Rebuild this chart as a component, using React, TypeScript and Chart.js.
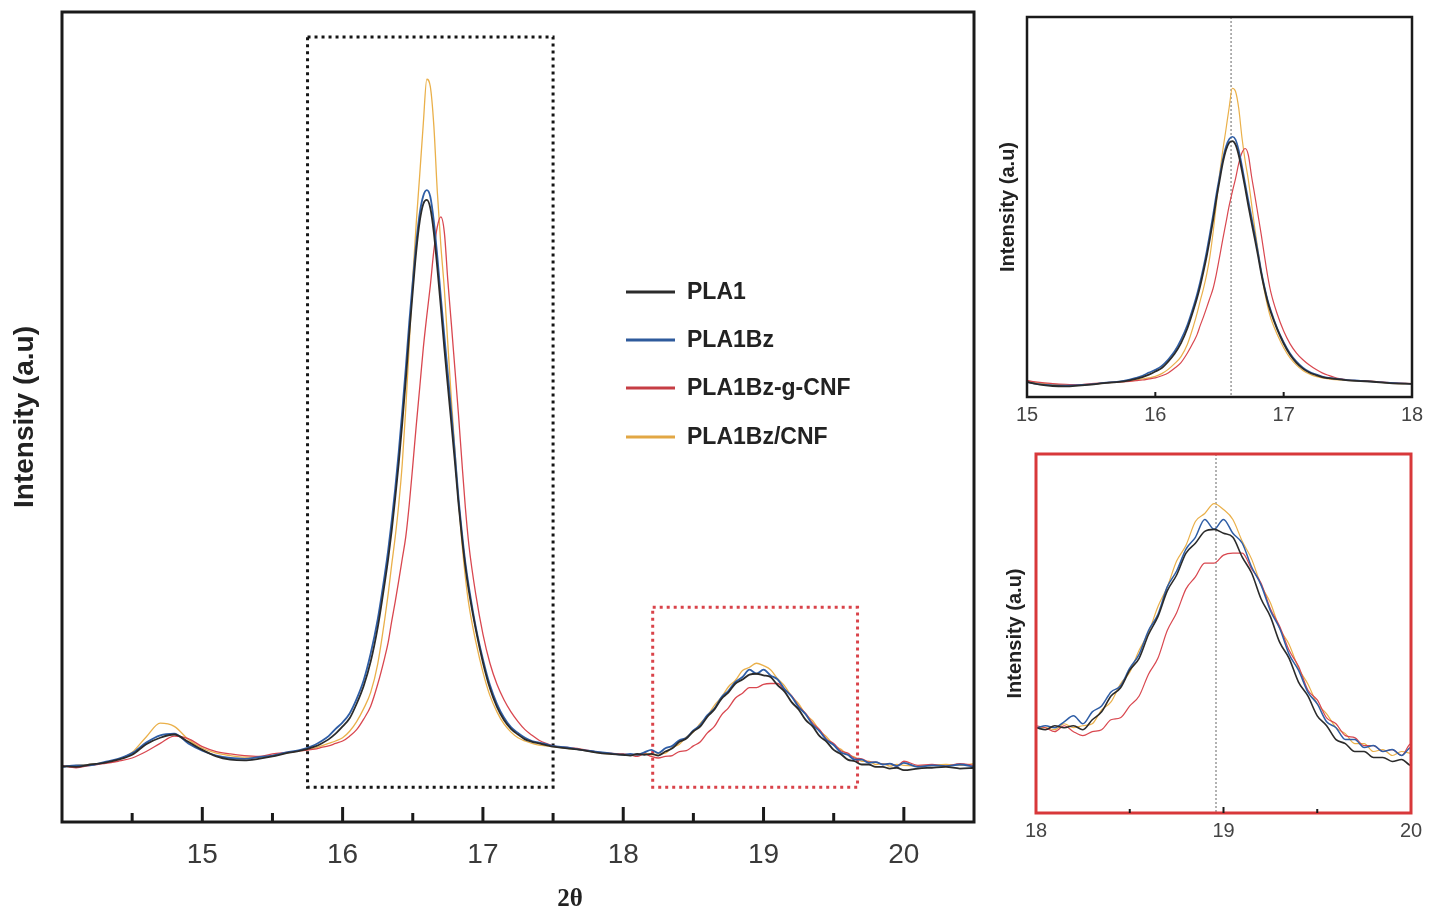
import { useEffect, useRef } from 'react';
import { Chart, registerables } from 'chart.js';

Chart.register(...registerables);

// ---------- DATA ----------
const twoTheta = [
  14.0, 14.1, 14.2, 14.3, 14.4, 14.5, 14.6, 14.7, 14.8, 14.9, 15.0, 15.1, 15.2, 15.3, 15.4, 15.5, 15.6, 15.7, 15.8,
  15.85, 15.9, 15.95, 16.0, 16.05, 16.1, 16.15, 16.2, 16.25, 16.3,
  16.325, 16.35, 16.375, 16.4, 16.425, 16.45, 16.475, 16.5, 16.525, 16.55, 16.575, 16.6, 16.625, 16.65, 16.675, 16.7,
  16.725, 16.75, 16.775, 16.8, 16.825, 16.85, 16.875, 16.9,
  16.95, 17.0, 17.05, 17.1, 17.15, 17.2, 17.25, 17.3, 17.35, 17.4, 17.45, 17.5,
  17.6, 17.7, 17.8, 17.9, 18.0,
  18.05, 18.1, 18.15, 18.2, 18.25, 18.3, 18.35, 18.4, 18.45, 18.5, 18.55, 18.6, 18.65, 18.7, 18.75, 18.8, 18.85, 18.9,
  18.95, 19.0, 19.05, 19.1, 19.15, 19.2, 19.25, 19.3, 19.35, 19.4, 19.45, 19.5, 19.55, 19.6, 19.65, 19.7, 19.75, 19.8,
  19.85, 19.9, 19.95, 20.0,
  20.1, 20.2, 20.3, 20.4, 20.5,
];

const pla1 = [
  69, 68, 71, 73, 77, 83, 96, 104, 108, 99, 89, 81, 77, 76, 78, 81, 85, 88, 93,
  97, 102, 109, 118, 128, 146, 168, 198, 240, 295,
  325, 360, 400, 443, 492, 545, 603, 655, 705, 742, 763, 768, 758, 728, 684, 636,
  585, 538, 492, 445, 395, 352, 315, 285,
  237, 197, 165, 142, 126, 115, 108, 102, 99, 97, 95, 93,
  91, 89, 86, 84, 83,
  82, 84, 83, 84, 82, 87, 91, 99, 103, 112, 118, 130, 139, 152, 160, 171, 176, 182,
  183, 181, 179, 169, 161, 148, 139, 126, 118, 106, 99, 89, 84, 77, 75, 71, 71, 68,
  68, 66, 67, 64,
  66, 67, 68, 66, 67,
];

const pla1Bz = [
  68, 70, 70, 74, 78, 85, 98, 107, 109, 97, 88, 82, 79, 78, 80, 82, 86, 89, 95,
  100, 106, 115, 123, 134, 152, 175, 208, 250, 305,
  336, 372, 412, 457, 507, 560, 617, 667, 715, 752, 773, 780, 772, 742, 698, 648,
  600, 553, 505, 455, 402, 358, 320, 290,
  240, 201, 169, 146, 129, 117, 110, 104, 100, 98, 96, 94,
  92, 89, 87, 85, 83,
  84, 83, 86, 89, 85, 91, 94, 101, 104, 113, 120, 132, 140, 154, 162, 173, 179, 188,
  183, 188, 181, 176, 164, 155, 142, 133, 120, 112, 101, 95, 86, 83, 77, 77, 73, 74,
  71, 72, 69, 73,
  68, 70, 69, 71, 68,
];

const pla1BzgCNF = [
  70, 67, 70, 72, 75, 79, 87, 97, 106, 103, 93, 87, 84, 82, 81, 84, 86, 88, 90,
  92, 94, 97, 100, 106, 114, 127, 143, 170, 203,
  222, 248, 272, 298, 325, 352, 392, 440, 490, 537, 585, 625, 662, 705, 735, 747,
  728, 668, 615, 560, 505, 445, 388, 342,
  280, 232, 196, 170, 151, 136, 124, 114, 107, 101, 97, 94,
  92, 90, 87, 85, 84,
  83, 81, 84, 81, 79, 81, 82, 87, 88, 94, 99, 110, 118, 132, 141, 153, 159, 166,
  166, 170, 171, 171, 163, 156, 143, 134, 122, 114, 102, 97, 88, 85, 79, 78, 74, 74,
  71, 72, 69, 75,
  70, 71, 69, 72, 70,
];

const pla1BzCNF = [
  68, 70, 71, 73, 77, 86, 105, 122, 118, 102, 91, 85, 82, 80, 80, 82, 85, 88, 91,
  94, 97, 100, 104, 112, 124, 140, 160, 195, 250,
  282, 318, 352, 392, 442, 510, 590, 672, 740, 800, 862, 917, 908, 860, 778, 712,
  658, 590, 522, 460, 398, 345, 302, 268,
  222, 185, 156, 136, 121, 111, 104, 100, 97, 95, 94, 93,
  91, 89, 86, 84, 83,
  83, 82, 85, 83, 84, 85, 92, 96, 105, 111, 122, 131, 144, 154, 167, 175, 187, 191,
  196, 193, 188, 177, 168, 155, 146, 133, 125, 113, 105, 95, 90, 83, 80, 75, 75, 71,
  72, 69, 71, 70,
  69, 70, 71, 70, 72,
];

const seriesNames = ['PLA1', 'PLA1Bz', 'PLA1Bz-g-CNF', 'PLA1Bz/CNF'];
const seriesValues = [pla1, pla1Bz, pla1BzgCNF, pla1BzCNF];
const seriesColors = ['#2b2b2b', '#2f5ea6', '#d9474f', '#eab04a'];
const legendColors = ['#2b2b2b', '#2e5a9c', '#c63d44', '#e2a744'];

const mainXRange = [14, 20.5];
const mainYRange = [0, 1000];
const mainTickLabels = [15, 16, 17, 18, 19, 20];
const topXRange = [15, 18];
const topYRange = [46, 1118];
const topTickLabels = [15, 16, 17, 18];
const botXRange = [18, 20];
const botYRange = [40, 221];
const botTickLabels = [18, 19, 20];

// zoom boxes on the main panel, in data units [x0, x1], [y0, y1]
const blackBoxX = [15.75, 17.5];
const blackBoxY = [43, 969];
const redBoxX = [18.21, 19.67];
const redBoxY = [43, 265];
// peak reference lines in the insets
const topPeakMarker = 16.59;
const botPeakMarker = 18.96;

const SANS = 'Arial, "Liberation Sans", Helvetica, sans-serif';
const SERIF = '"Times New Roman", "Liberation Serif", serif';

function makeDatasets(widths: number[]) {
  return seriesValues.map((vals, i) => ({
    label: seriesNames[i],
    data: twoTheta.map((x, j) => ({ x, y: vals[j] })),
    borderColor: seriesColors[i],
    backgroundColor: seriesColors[i],
    borderWidth: widths[i],
    pointRadius: 0,
    cubicInterpolationMode: 'monotone' as const,
    fill: false,
  }));
}

function drawInwardTicks(chart: any, majorLen: number, minorLen: number, width: number, color: string) {
  const { ctx, chartArea } = chart;
  const xs = chart.scales.x;
  ctx.save();
  ctx.strokeStyle = color;
  ctx.lineWidth = width;
  xs.ticks.forEach((t: any) => {
    if (t.value <= xs.min + 1e-9 || t.value >= xs.max - 1e-9) return;
    const px = xs.getPixelForValue(t.value);
    const len = Number.isInteger(t.value) ? majorLen : minorLen;
    ctx.beginPath();
    ctx.moveTo(px, chartArea.bottom);
    ctx.lineTo(px, chartArea.bottom - len);
    ctx.stroke();
  });
  ctx.restore();
}

function drawFrame(chart: any, color: string, width: number) {
  const { ctx, chartArea } = chart;
  ctx.save();
  ctx.strokeStyle = color;
  ctx.lineWidth = width;
  ctx.strokeRect(chartArea.left, chartArea.top, chartArea.right - chartArea.left, chartArea.bottom - chartArea.top);
  ctx.restore();
}

function drawMarker(chart: any, value: number) {
  const { ctx, chartArea } = chart;
  const px = chart.scales.x.getPixelForValue(value);
  ctx.save();
  ctx.strokeStyle = '#666';
  ctx.lineWidth = 1;
  ctx.setLineDash([2, 2]);
  ctx.beginPath();
  ctx.moveTo(px, chartArea.top);
  ctx.lineTo(px, chartArea.bottom);
  ctx.stroke();
  ctx.restore();
}

const mainDecor = {
  id: 'mainDecor',
  beforeDatasetsDraw(chart: any) {
    const { ctx } = chart;
    const xs = chart.scales.x;
    const ys = chart.scales.y;
    const box = (bx: number[], by: number[], color: string) => {
      const x0 = xs.getPixelForValue(bx[0]);
      const x1 = xs.getPixelForValue(bx[1]);
      const y0 = ys.getPixelForValue(by[1]);
      const y1 = ys.getPixelForValue(by[0]);
      ctx.save();
      ctx.strokeStyle = color;
      ctx.lineWidth = 3;
      ctx.setLineDash([3, 4]);
      ctx.strokeRect(x0, y0, x1 - x0, y1 - y0);
      ctx.restore();
    };
    box(blackBoxX, blackBoxY, '#151515');
    box(redBoxX, redBoxY, '#d9434a');
  },
  afterDraw(chart: any) {
    const { ctx, chartArea } = chart;
    drawFrame(chart, '#1a1a1a', 3);
    drawInwardTicks(chart, 15, 9, 3, '#1a1a1a');
    // legend
    ctx.save();
    ctx.font = `bold 23px ${SANS}`;
    ctx.textBaseline = 'middle';
    ctx.textAlign = 'left';
    const rowY = [280, 328, 376, 425];
    seriesNames.forEach((name, i) => {
      const y = chartArea.top + rowY[i];
      ctx.strokeStyle = legendColors[i];
      ctx.lineWidth = 3;
      ctx.beginPath();
      ctx.moveTo(chartArea.left + 564, y);
      ctx.lineTo(chartArea.left + 613, y);
      ctx.stroke();
      ctx.fillStyle = '#222';
      ctx.fillText(name, chartArea.left + 625, y + 1);
    });
    // x axis title
    ctx.font = `bold 25px ${SERIF}`;
    ctx.textAlign = 'center';
    ctx.fillStyle = '#222';
    ctx.fillText('2θ', chartArea.left + 508, chartArea.bottom + 78);
    ctx.restore();
  },
};

const topDecor = {
  id: 'topDecor',
  beforeDatasetsDraw(chart: any) {
    drawMarker(chart, topPeakMarker);
  },
  afterDraw(chart: any) {
    drawFrame(chart, '#1a1a1a', 2.5);
    drawInwardTicks(chart, 5, 4, 2, '#1a1a1a');
  },
};

const botDecor = {
  id: 'botDecor',
  beforeDatasetsDraw(chart: any) {
    drawMarker(chart, botPeakMarker);
  },
  afterDraw(chart: any) {
    drawFrame(chart, '#d8383a', 3);
    drawInwardTicks(chart, 6, 4, 2, '#1a1a1a');
  },
};

function makeConfig(opts: {
  widths: number[];
  xRange: number[];
  yRange: number[];
  step: number;
  labels: number[];
  tickFont: number;
  tickPad: number;
  tickColor: string;
  yTitleFont: number;
  yTitlePad: number;
  yWidth: number;
  xHeight: number;
  padding: any;
  plugin: any;
}): any {
  return {
    type: 'line',
    data: { datasets: makeDatasets(opts.widths) },
    options: {
      responsive: false,
      animation: false,
      devicePixelRatio: 1,
      layout: { padding: opts.padding },
      plugins: { legend: { display: false }, tooltip: { enabled: false } },
      events: [],
      scales: {
        x: {
          type: 'linear',
          min: opts.xRange[0],
          max: opts.xRange[1],
          grid: { display: false, drawTicks: false },
          border: { display: false },
          ticks: {
            stepSize: opts.step,
            autoSkip: false,
            maxRotation: 0,
            padding: opts.tickPad,
            color: opts.tickColor,
            font: { family: SANS, size: opts.tickFont },
            callback: (v: any) => (opts.labels.includes(Number(v)) ? String(v) : ''),
          },
          afterFit: (s: any) => {
            s.height = opts.xHeight;
          },
        },
        y: {
          type: 'linear',
          min: opts.yRange[0],
          max: opts.yRange[1],
          grid: { display: false, drawTicks: false },
          border: { display: false },
          ticks: { display: false },
          title: {
            display: true,
            text: 'Intensity (a.u)',
            color: '#222',
            font: { family: SANS, size: opts.yTitleFont, weight: 'bold' },
            padding: { top: opts.yTitlePad, bottom: 0 },
          },
          afterFit: (s: any) => {
            s.width = opts.yWidth;
          },
        },
      },
    },
    plugins: [opts.plugin],
  };
}

export default function App() {
  const mainRef = useRef<HTMLCanvasElement>(null);
  const topRef = useRef<HTMLCanvasElement>(null);
  const botRef = useRef<HTMLCanvasElement>(null);

  useEffect(() => {
    const charts: Chart[] = [];
    if (mainRef.current) {
      charts.push(
        new Chart(
          mainRef.current,
          makeConfig({
            widths: [1.8, 1.8, 1.3, 1.3],
            xRange: mainXRange,
            yRange: mainYRange,
            step: 0.5,
            labels: mainTickLabels,
            tickFont: 28,
            tickPad: 16,
            tickColor: '#3a3a3a',
            yTitleFont: 28,
            yTitlePad: 8,
            yWidth: 62,
            xHeight: 93,
            padding: { top: 12, right: 15, left: 0, bottom: 0 },
            plugin: mainDecor,
          })
        )
      );
    }
    if (topRef.current) {
      charts.push(
        new Chart(
          topRef.current,
          makeConfig({
            widths: [1.8, 1.6, 1.2, 1.2],
            xRange: topXRange,
            yRange: topYRange,
            step: 1,
            labels: topTickLabels,
            tickFont: 20,
            tickPad: 6,
            tickColor: '#444',
            yTitleFont: 20,
            yTitlePad: 6,
            yWidth: 37,
            xHeight: 43,
            padding: { top: 17, right: 29, left: 0, bottom: 0 },
            plugin: topDecor,
          })
        )
      );
    }
    if (botRef.current) {
      charts.push(
        new Chart(
          botRef.current,
          makeConfig({
            widths: [1.6, 1.5, 1.2, 1.2],
            xRange: botXRange,
            yRange: botYRange,
            step: 0.5,
            labels: botTickLabels,
            tickFont: 20,
            tickPad: 6,
            tickColor: '#444',
            yTitleFont: 20,
            yTitlePad: 13,
            yWidth: 46,
            xHeight: 102,
            padding: { top: 14, right: 30, left: 0, bottom: 0 },
            plugin: botDecor,
          })
        )
      );
    }
    return () => charts.forEach((c) => c.destroy());
  }, []);

  return (
    <div style={{ position: 'absolute', left: 0, top: 0, width: 1441, height: 915, background: '#fff' }}>
      <canvas ref={mainRef} width={990} height={915} style={{ position: 'absolute', left: 0, top: 0, width: 990, height: 915 }} />
      <canvas ref={topRef} width={451} height={440} style={{ position: 'absolute', left: 990, top: 0, width: 451, height: 440 }} />
      <canvas ref={botRef} width={451} height={475} style={{ position: 'absolute', left: 990, top: 440, width: 451, height: 475 }} />
    </div>
  );
}
